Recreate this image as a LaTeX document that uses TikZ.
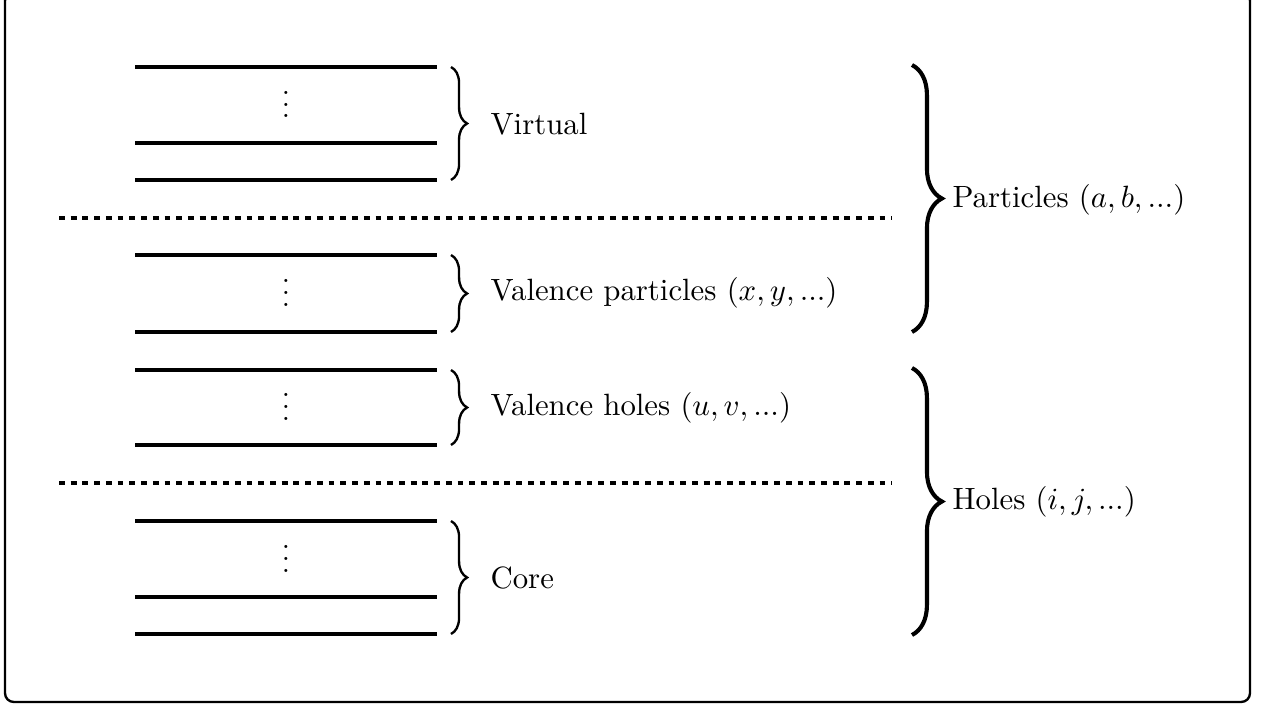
\documentclass[tikz,border=0pt]{standalone}
\usetikzlibrary{decorations.pathreplacing}
\begin{document}
\begin{tikzpicture}[x=0.012cm,y=-0.012cm,
  levelline/.style={line width=1.4pt},
  sepline/.style={line width=1.4pt, dash pattern=on 2pt off 2pt},
  sbrace/.style={decorate, decoration={brace, amplitude=5.5pt}, line width=0.8pt},
  lbrace/.style={decorate, decoration={brace, amplitude=10.2pt}, line width=1.4pt},
  lab/.style={anchor=west, inner sep=0pt, scale=1.05},
  dotsnode/.style={anchor=base, inner sep=0pt}]
\useasboundingbox (0,0) rectangle (1263,707);
\draw[line width=0.8pt, rounded corners=3pt] (5,-8) rectangle (1250,702);

% Virtual
\coordinate (v1l) at (135,67);  \coordinate (v1r) at (437,67);
\coordinate (v2l) at (135,143); \coordinate (v2r) at (437,143);
\coordinate (v3l) at (135,180); \coordinate (v3r) at (437,180);
\draw[levelline] (v1l) -- (v1r);
\draw[levelline] (v2l) -- (v2r);
\draw[levelline] (v3l) -- (v3r);
\node[dotsnode] (vdots) at (286,118) {$\vdots$};

% separator 1
\coordinate (s1l) at (59,218); \coordinate (s1r) at (892,218);
\draw[sepline] (s1l) -- (s1r);

% Valence particles
\coordinate (p1l) at (135,255); \coordinate (p1r) at (437,255);
\coordinate (p2l) at (135,332); \coordinate (p2r) at (437,332);
\draw[levelline] (p1l) -- (p1r);
\draw[levelline] (p2l) -- (p2r);
\node[dotsnode] (pdots) at (286,306) {$\vdots$};

% Valence holes
\coordinate (h1l) at (135,370); \coordinate (h1r) at (437,370);
\coordinate (h2l) at (135,445); \coordinate (h2r) at (437,445);
\draw[levelline] (h1l) -- (h1r);
\draw[levelline] (h2l) -- (h2r);
\node[dotsnode] (hdots) at (286,420) {$\vdots$};

% separator 2
\coordinate (s2l) at (59,483); \coordinate (s2r) at (892,483);
\draw[sepline] (s2l) -- (s2r);

% Core
\coordinate (c1l) at (135,521); \coordinate (c1r) at (437,521);
\coordinate (c2l) at (135,597); \coordinate (c2r) at (437,597);
\coordinate (c3l) at (135,634); \coordinate (c3r) at (437,634);
\draw[levelline] (c1l) -- (c1r);
\draw[levelline] (c2l) -- (c2r);
\draw[levelline] (c3l) -- (c3r);
\node[dotsnode] (cdots) at (286,572) {$\vdots$};

% small braces
\coordinate (bv1) at (451,67);  \coordinate (bv2) at (451,180);
\coordinate (bp1) at (451,255); \coordinate (bp2) at (451,332);
\coordinate (bh1) at (451,370); \coordinate (bh2) at (451,445);
\coordinate (bc1) at (451,521); \coordinate (bc2) at (451,634);
\draw[sbrace] (bv1) -- (bv2);
\draw[sbrace] (bp1) -- (bp2);
\draw[sbrace] (bh1) -- (bh2);
\draw[sbrace] (bc1) -- (bc2);

\node[lab] (lv) at (490,124) {Virtual};
\node[lab] (lp) at (490,293) {Valence particles $(x,y,...)$};
\node[lab] (lh) at (490,408) {Valence holes $(u,v,...)$};
\node[lab] (lc) at (490,578) {Core};

% large braces
\coordinate (BP1) at (912,65);  \coordinate (BP2) at (912,332);
\coordinate (BH1) at (912,368); \coordinate (BH2) at (912,635);
\draw[lbrace] (BP1) -- (BP2);
\draw[lbrace] (BH1) -- (BH2);

\node[lab] (LP) at (952,200) {Particles $(a,b,...)$};
\node[lab] (LH) at (952,502) {Holes $(i,j,...)$};
\end{tikzpicture}
\end{document}
